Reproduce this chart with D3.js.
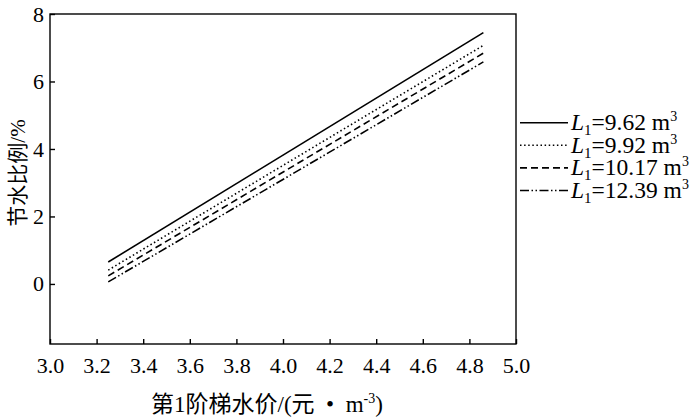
<!DOCTYPE html>
<html><head><meta charset="utf-8">
<script src="https://cdn.jsdelivr.net/npm/d3@7"></script>
<style>body{margin:0;background:#fff}</style>
</head><body>
<svg id="c" width="700" height="420"></svg>
<script>
const xStart = [3.25, 3.25, 3.25, 3.25];
const xEnd = [4.86, 4.86, 4.86, 4.86];
const seriesNames = ["9.62", "9.92", "10.17", "12.39"];
const startValues = [0.65, 0.41, 0.24, 0.06];
const endValues = [7.45, 7.07, 6.84, 6.58];
const xTicks = [3.0, 3.2, 3.4, 3.6, 3.8, 4.0, 4.2, 4.4, 4.6, 4.8, 5.0];
const yTicks = [0, 2, 4, 6, 8];
const dashes = [null, "1.5,2.6", "7,4", "9,2.5,1.5,2.5,1.5,2.5"];

const svg = d3.select("#c");
const serif = "'Liberation Serif','DejaVu Serif',serif";
const cjk = "'Noto Sans CJK SC',sans-serif";
const x = d3.scaleLinear().domain([3.0, 5.0]).range([50, 516]);
const y = d3.scaleLinear().domain([-1.78, 8]).range([344, 14]);

svg.append("rect").attr("x", 50).attr("y", 14).attr("width", 466).attr("height", 330)
  .attr("fill", "none").attr("stroke", "#000").attr("stroke-width", 1.4);

const xa = svg.append("g").attr("transform", "translate(0,344)")
  .call(d3.axisBottom(x).tickValues(xTicks).tickFormat(d3.format(".1f")).tickSizeInner(-5).tickSizeOuter(0).tickPadding(13));
const ya = svg.append("g").attr("transform", "translate(50,0)")
  .call(d3.axisLeft(y).tickValues(yTicks).tickFormat(d3.format("d")).tickSizeInner(-5).tickSizeOuter(0).tickPadding(6));
[xa, ya].forEach(a => {
  a.select(".domain").remove();
  a.selectAll("line").attr("stroke", "#000").attr("stroke-width", 1.4);
  a.selectAll("text").attr("font-family", serif).attr("font-size", 22).attr("fill", "#000");
});

const line = d3.line().x(d => x(d[0])).y(d => y(d[1]));
seriesNames.forEach((n, i) => {
  svg.append("path")
    .attr("d", line([[xStart[i], startValues[i]], [xEnd[i], endValues[i]]]))
    .attr("fill", "none").attr("stroke", "#000").attr("stroke-width", 1.6)
    .attr("stroke-dasharray", dashes[i]);
});

const lg = svg.append("g");
seriesNames.forEach((n, i) => {
  const yy = 122.7 + i * 22.6;
  lg.append("line").attr("x1", 520).attr("x2", 568).attr("y1", yy).attr("y2", yy)
    .attr("stroke", "#000").attr("stroke-width", 1.6).attr("stroke-dasharray", dashes[i]);
  const t = lg.append("text").attr("x", 571).attr("y", yy + 7.5)
    .attr("font-family", serif).attr("font-size", 23.5).attr("fill", "#000");
  t.append("tspan").attr("font-style", "italic").text("L");
  t.append("tspan").attr("font-size", 15).attr("dy", 5).text("1");
  t.append("tspan").attr("dy", -5).text("=" + n + " m");
  t.append("tspan").attr("font-size", 14).attr("dy", -9).text("3");
});

const xl = svg.append("text").attr("x", 151).attr("y", 412)
  .attr("font-size", 23).attr("fill", "#000");
xl.append("tspan").attr("font-family", cjk).text("第");
xl.append("tspan").attr("font-family", serif).text("1");
xl.append("tspan").attr("font-family", cjk).text("阶梯水价");
xl.append("tspan").attr("font-family", serif).text("/(");
xl.append("tspan").attr("font-family", cjk).text("元");
xl.append("tspan").attr("font-family", serif).text("\u2002•\u2002");
xl.append("tspan").attr("font-family", serif).text("m");
xl.append("tspan").attr("font-family", serif).attr("font-size", 14).attr("dy", -9).text("-3");
xl.append("tspan").attr("font-family", serif).attr("dy", 9).text(")");

const yl = svg.append("text").attr("transform", "translate(25,173) rotate(-90)")
  .attr("text-anchor", "middle").attr("font-size", 21).attr("fill", "#000");
yl.append("tspan").attr("font-family", cjk).text("节水比例");
yl.append("tspan").attr("font-family", serif).text("/%");
</script>
</body></html>
